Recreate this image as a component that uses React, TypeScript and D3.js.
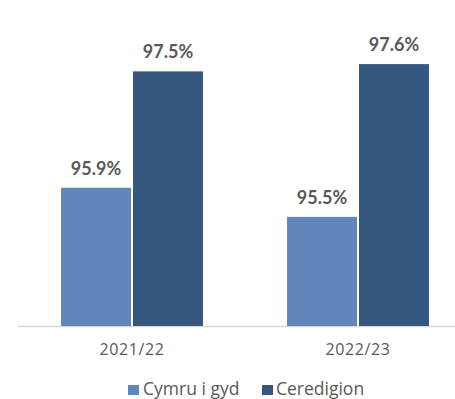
import React from "react";
import * as d3 from "d3";

const years = ["2021/22", "2022/23"];
const seriesNames = ["Cymru i gyd", "Ceredigion"];
const cymru = [95.9, 95.5];
const ceredigion = [97.5, 97.6];
const colors = ["#5f87bc", "#36577e"];

const W = 455;
const H = 399;

export default function App() {
  const x0 = d3.scaleBand<string>().domain(years).range([19, 471]).paddingInner(0.372).paddingOuter(0.186);
  const x1 = d3.scaleBand<string>().domain(seriesNames).range([0, x0.bandwidth()]).paddingInner(0.028);
  const y = d3.scaleLinear().domain([94, 98]).range([326, 35]);
  const values = [cymru, ceredigion];
  const font = "Lato, 'Liberation Sans', sans-serif";
  const font2 = "'Open Sans', 'Liberation Sans', sans-serif";

  return (
    <svg width={W} height={H} style={{ position: "absolute", left: 0, top: 0, background: "#fff" }}>
      <line x1={18} x2={W} y1={326.5} y2={326.5} stroke="#d9d9d9" strokeWidth={1.5} />
      {years.map((yr, i) => (
        <g key={yr} transform={`translate(${x0(yr)},0)`}>
          {seriesNames.map((s, j) => {
            const v = values[j][i];
            const bx = x1(s) as number;
            return (
              <g key={s}>
                <rect x={bx} y={y(v)} width={x1.bandwidth()} height={y(94) - y(v)} fill={colors[j]} />
                <text
                  x={bx + x1.bandwidth() / 2}
                  y={y(v) - 13}
                  textAnchor="middle"
                  fontFamily={font}
                  fontWeight={700}
                  fontSize={18}
                  fill="#595959"
                >
                  {v.toFixed(1)}%
                </text>
              </g>
            );
          })}
          <text
            x={x0.bandwidth() / 2}
            y={355}
            textAnchor="middle"
            fontFamily={font2}
            fontSize={16}
            letterSpacing={0.6}
            fill="#595959"
          >
            {yr}
          </text>
        </g>
      ))}
      <g>
        <rect x={128} y={385} width={11} height={10} fill={colors[0]} />
        <text x={143} y={394.5} fontFamily={font2} fontSize={17.5} fill="#595959">{seriesNames[0]}</text>
        <rect x={262} y={385} width={11} height={10} fill={colors[1]} />
        <text x={276} y={394.5} fontFamily={font2} fontSize={17.5} fill="#595959">{seriesNames[1]}</text>
      </g>
    </svg>
  );
}
